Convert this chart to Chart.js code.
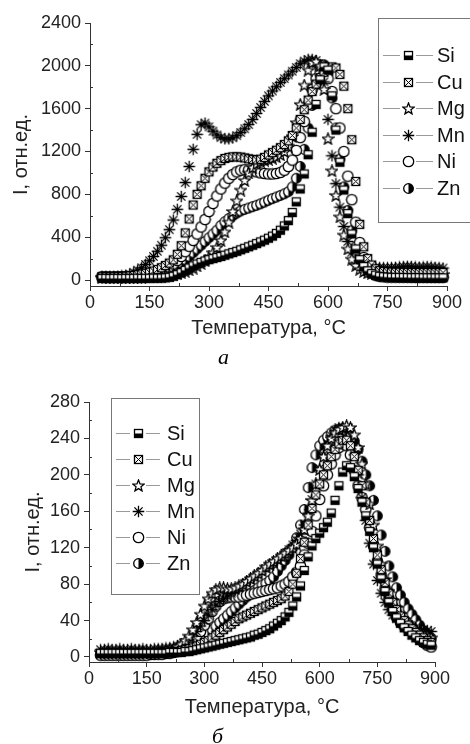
<!DOCTYPE html>
<html><head><meta charset="utf-8">
<script src="https://cdn.jsdelivr.net/npm/chart.js@4.4.1/dist/chart.umd.min.js"></script>
<style>
html,body{margin:0;padding:0;background:#fff;overflow:hidden;width:470px;height:744px}
#wa{position:absolute;left:0;top:0;width:470px;height:372px}
#wb{position:absolute;left:0;top:372px;width:470px;height:376px}
</style></head><body>
<div id="wa"><canvas id="ca"></canvas></div>
<div id="wb"><canvas id="cb"></canvas></div>
<script>
// ---------- data ----------
const temperature = [30,40,50,60,70,80,90,100,110,120,130,140,150,160,170,180,190,200,210,220,230,240,250,260,270,280,290,300,310,320,330,340,350,360,370,380,390,400,410,420,430,440,450,460,470,480,490,500,510,520,530,540,550,560,570,580,590,600,610,620,630,640,650,660,670,680,690,700,710,720,730,740,750,760,770,780,790,800,810,820,830,840,850,860,870,880,890];
const elements = ['Si','Cu','Mg','Mn','Ni','Zn'];

// chart "а"
const siA = [15,15,14,15,15,14,15,15,15,16,15,16,16,17,17,18,20,
  25,35,50,68,90,112,132,150,165,178, 190,200,210,220,232,244,256,268,282,296,
  310,325,340,356,372,390,410,435,465,505, 555,630,730,850,990,1170,1380,1640,1870,1990,
  1960,1720,1400,1100,840,620,430,290,190,125, 85,60,45,35,30,27,25,24,24,23, 23,22,22,22,21,21,21,20,20,20];
const cuA = [30,31,30,31,32,33,35,38,42,48,55, 62,72,84,98,115,135,
  158,188,240,320,440,570,700,800,880,950, 1010,1055,1090,1115,1135,1145,1150,1150,1148,1140,
  1132,1125,1122,1128,1145,1168,1190,1212,1236,1265, 1300,1350,1420,1500,1590,1680,1760,1830,1890,1940,
  1975,1990,1980,1920,1810,1600,1310,920,520,310, 200,140,105,88,80,76,74,72,72,71, 71,70,70,70,70,70,69,69,69,69];
const mgA = [25,25,24,25,25,25,26,26,27,27,28,29,30,32,34,37,41,
  46,52,60,70,82,96,112,132,155,182, 215,255,305,370,450,540,640,740,840,930,
  1000,1050,1085,1105,1118,1128,1138,1150,1170,1200, 1250,1340,1470,1640,1820,1960,2030,2040,2000,1780,
  1320,1020,790,590,420,290,195,135,100,80, 68,62,58,56,55,55,54,54,54,53, 53,53,53,53,52,52,52,52,52,52];
const mnA = [30,31,32,33,35,38, 42,55,72,92,115,145,180,220,268,325,395,
  470,560,660,780,910,1060,1220,1360,1450,1465, 1430,1390,1355,1330,1318,1318,1328,1348,1378,1412,
  1452,1500,1555,1612,1668,1720,1765,1805,1845,1880, 1915,1950,1985,2020,2045,2060,2060,2050,2010,1850,
  1500,1160,900,680,500,360,260,195,155,135, 125,120,118,116,115,115,116,118,122,125, 128,126,122,120,122,125,122,118,115,112];
const niA = [30,30,29,30,30,31,30,31,32,33,35,38, 42,50,62,78,98,
  122,150,182,220,265,315,370,430,495,565, 640,715,785,850,905,950,985,1010,1025,1030,
  1028,1020,1010,1000,995,990,990,995,1005,1025, 1060,1120,1210,1330,1480,1640,1780,1880,1930,1930,
  1880,1760,1600,1420,1200,970,750,540,350,210, 120,70,45,35,30,28,27,27,26,26, 26,26,25,25,25,25,25,25,25,25];
const znA = [25,25,24,25,25,26,25,26,27,28,30,32,35,40, 48,58,72,
  90,110,135,160,190,220,255,290,325,360, 395,430,465,510,545,575,600,625,645,660,
  672,685,698,712,728,745,760,775,790,805, 825,870,950,1060,1220,1420,1630,1830,1970,2010,
  1930,1700,1420,1130,870,650,460,310,200,130, 90,65,50,42,38,36,35,34,34,33, 33,33,32,32,32,31,31,31,30,30];

// chart "б"
const siB = [4,4,4,4,4,4,4,4,4,4,4,4,4,4,4,4,4,4,5,5,5, 5,6,6,7,8,9,
  10,11,12,13,14,15,16,17,18,19, 20,21,22,24,25,27,29,31,34,37, 40,44,49,56,66,78,95,110,122,130,
  136,142,148,158,172,188,203,210,208,198, 185,170,155,138,120,102,86,72,60,50, 43,37,32,28,24,21,18,16,14,13];
const cuB = [4,4,4,4,4,4,4,4,4,4,4,4,4,4,4,4,5,5,5,6,6, 7,8,9,10,12,14,
  16,18,21,24,27,30,33,36,39,42, 44,46,48,50,52,54,56,58,60,62, 64,67,72,80,92,108,126,145,163,178,
  190,200,210,220,228,234,238,238,232,220, 205,188,170,150,130,112,96,82,70,60, 52,45,40,35,31,27,24,21,18,16];
const mgB = [5,5,5,5,5,5,5,5,5,5,5,5,5,5,5,6,6,7,8,9,11, 14,18,23,30,38,47,
  56,64,70,74,76,76,75,75,76,78, 80,83,86,89,92,95,99,102,105,108, 111,114,117,120,124,130,140,155,172,190,
  206,220,232,240,246,250,252,254,252,244, 230,212,190,168,145,122,102,85,72,62, 54,47,41,37,33,30,27,25,23,21];
const mnB = [8,8,9,8,8,9,8,8,9,8,8,9,8,8,9,9,9,10,10,11,12, 14,16,19,23,28,34,
  40,46,52,57,61,64,67,70,73,76, 79,82,85,88,91,94,97,100,103,106, 110,114,118,123,128,135,145,158,173,190,
  207,222,234,243,249,252,252,247,236,222, 200,175,150,125,102,84,70,60,52,46, 42,39,37,35,33,32,31,30,29,28];
const niB = [2,2,2,2,2,2,2,2,2,2,2,2,2,3,3,3,3,4,4,5,6, 8,10,13,17,22,28,
  35,42,50,56,61,64,65,66,66,66, 67,68,69,70,71,72,73,74,75,76, 78,80,83,88,93,100,112,125,138,155,
  173,188,200,212,222,230,234,232,222,205, 188,175,162,142,122,105,90,75,63,52, 44,38,34,31,28,24,20,16,13,11];
const znB = [3,3,3,3,3,3,3,3,3,3,3,3,3,3,3,4,4,4,5,5,6, 7,8,10,12,15,18,
  22,26,30,34,38,42,46,50,54,58, 62,66,70,73,76,79,81,84,88,94, 100,106,112,120,131,145,162,186,208,222,
  232,238,242,246,249,250,250,248,244,237, 228,215,200,188,172,155,134,116,100,88, 76,68,60,53,47,41,35,29,24,20];

// ticks
const xTicks = [0,150,300,450,600,750,900];
const xMinor = [75,225,375,525,675,825];
const yTicksA = [0,400,800,1200,1600,2000,2400];
const yMinorA = [200,600,1000,1400,1800,2200];
const yTicksB = [0,40,80,120,160,200,240,280];
const yMinorB = [20,60,100,140,180,220,260];

// ---------- markers ----------
function marker(kind){
  const S = 13, c = document.createElement('canvas');
  c.width = S; c.height = S;
  const g = c.getContext('2d'), m = S/2;
  g.strokeStyle = '#000'; g.fillStyle = '#fff'; g.lineWidth = 1.3;
  if (kind === 'halfSquare') {
    g.fillRect(2,2,9,9); g.fillStyle = '#000'; g.fillRect(2,6.5,9,4.5);
    g.strokeRect(2.5,2.5,8,8);
  } else if (kind === 'boxX') {
    g.fillRect(2,2,9,9); g.strokeRect(2.5,2.5,8,8);
    g.lineWidth = 1;
    g.beginPath(); g.moveTo(2.5,2.5); g.lineTo(10.5,10.5); g.moveTo(10.5,2.5); g.lineTo(2.5,10.5); g.stroke();
  } else if (kind === 'star5') {
    g.beginPath();
    for (let k = 0; k < 10; k++) {
      const r = k % 2 ? 2.6 : 6, a = -Math.PI/2 + k*Math.PI/5;
      const px = m + r*Math.cos(a), py = m + 0.5 + r*Math.sin(a);
      k ? g.lineTo(px,py) : g.moveTo(px,py);
    }
    g.closePath(); g.fill(); g.stroke();
  } else if (kind === 'asterisk') {
    g.beginPath();
    for (let k = 0; k < 4; k++) {
      const a = k*Math.PI/4, r = 5.8;
      g.moveTo(m - r*Math.cos(a), m - r*Math.sin(a)); g.lineTo(m + r*Math.cos(a), m + r*Math.sin(a));
    }
    g.stroke();
  } else if (kind === 'circle') {
    g.beginPath(); g.arc(m,m,5.2,0,Math.PI*2); g.fill(); g.stroke();
  } else if (kind === 'halfCircle') {
    g.beginPath(); g.arc(m,m,4.8,0,Math.PI*2); g.fill();
    g.fillStyle = '#000'; g.beginPath(); g.arc(m,m,4.8,-Math.PI/2,Math.PI/2); g.closePath(); g.fill();
    g.beginPath(); g.arc(m,m,4.8,0,Math.PI*2); g.stroke();
  }
  return c;
}
const markerKinds = ['halfSquare','boxX','star5','asterisk','circle','halfCircle'];
const markers = markerKinds.map(marker);

// ---------- plugins ----------
const minorTicks = {
  id: 'minorTicks',
  afterDraw(chart, args, o) {
    const ctx = chart.ctx, {left, bottom} = chart.chartArea;
    const xs = chart.scales.x, ys = chart.scales.y;
    ctx.save(); ctx.strokeStyle = '#333'; ctx.lineWidth = 1; ctx.beginPath();
    o.x.forEach(v => { const p = Math.round(xs.getPixelForValue(v)) + 0.5; ctx.moveTo(p, bottom); ctx.lineTo(p, bottom - 3); });
    o.y.forEach(v => { const p = Math.round(ys.getPixelForValue(v)) + 0.5; ctx.moveTo(left, p); ctx.lineTo(left + 3, p); });
    ctx.stroke(); ctx.restore();
  }
};
const boxLegend = {
  id: 'boxLegend',
  afterDatasetsDraw(chart, args, o) {
    const ctx = chart.ctx;
    ctx.save();
    ctx.fillStyle = '#fff'; ctx.fillRect(o.x, o.y, o.w, o.h);
    ctx.strokeStyle = '#777'; ctx.lineWidth = 1; ctx.strokeRect(o.x + 0.5, o.y + 0.5, o.w, o.h);
    ctx.font = '20px "Liberation Sans", Arial, sans-serif';
    ctx.textBaseline = 'middle'; ctx.textAlign = 'left';
    chart.data.datasets.forEach((ds, i) => {
      const cy = Math.round(o.firstY + i * o.rowH);
      ctx.strokeStyle = '#999'; ctx.beginPath();
      ctx.moveTo(o.markX - o.lineOut, cy + 0.5); ctx.lineTo(o.markX - o.lineIn, cy + 0.5);
      ctx.moveTo(o.markX + o.lineIn, cy + 0.5); ctx.lineTo(o.markX + o.lineOut, cy + 0.5);
      ctx.stroke();
      const img = ds.pointStyle;
      ctx.drawImage(img, Math.round(o.markX - img.width / 2), Math.round(cy - img.height / 2));
      ctx.fillStyle = '#111'; ctx.fillText(ds.label, o.textX, cy + 1);
    });
    ctx.restore();
  }
};

Chart.defaults.font.family = '"Liberation Sans", Arial, sans-serif';
Chart.defaults.color = '#222';

function build(canvasId, series, cfg) {
  const datasets = series.map((vals, i) => ({
    label: elements[i],
    data: temperature.map((t, k) => ({x: t, y: vals[k]})),
    pointStyle: markers[i],
    pointRadius: 5,
    showLine: false,
    borderColor: '#000',
    backgroundColor: '#fff',
    clip: false
  }));
  return new Chart(document.getElementById(canvasId), {
    type: 'scatter',
    data: {datasets},
    options: {
      responsive: true, maintainAspectRatio: false, animation: false, devicePixelRatio: 1,
      events: [],
      layout: {padding: {top: cfg.padTop, right: cfg.padRight, left: 0, bottom: 0}},
      plugins: {
        legend: {display: false},
        tooltip: {enabled: false},
        title: {display: true, text: cfg.caption, position: 'bottom', color: '#000',
          font: {family: '"Liberation Serif", "Times New Roman", serif', style: 'italic', weight: 'normal', size: 22, lineHeight: 1},
          padding: {top: 7, bottom: cfg.capBottom}},
        minorTicks: {x: xMinor, y: cfg.yMinor},
        boxLegend: cfg.legend
      },
      scales: {
        x: {
          type: 'linear', min: 0, max: 900,
          border: {color: '#333', width: 1},
          grid: {display: true, drawOnChartArea: false, drawTicks: true, tickLength: 5, color: '#333'},
          ticks: {font: {size: 18}, color: '#222', padding: 1, maxRotation: 0, callback: v => String(v)},
          title: {display: true, text: 'Температура, °C', font: {size: 20}, color: '#222', padding: {top: 0, bottom: 0}},
          afterBuildTicks: s => { s.ticks = xTicks.map(v => ({value: v})); },
          afterFit: s => { s.height = cfg.xHeight; }
        },
        y: {
          type: 'linear', min: cfg.yMin, max: cfg.yMax,
          border: {color: '#333', width: 1},
          grid: {display: true, drawOnChartArea: false, drawTicks: true, tickLength: 5, color: '#333'},
          ticks: {font: {size: 18}, color: '#222', padding: 4, callback: v => String(v)},
          title: {display: true, text: 'I, отн.ед.', font: {size: 20}, color: '#222', padding: {top: cfg.yTitlePad, bottom: 0}},
          afterBuildTicks: s => { s.ticks = cfg.yTicks.map(v => ({value: v})); },
          afterFit: s => { s.width = cfg.yWidth; }
        }
      }
    },
    plugins: [minorTicks, boxLegend]
  });
}

build('ca', [siA, cuA, mgA, mnA, niA, znA], {
  caption: 'а', padTop: 23, padRight: 23, capBottom: 3, xHeight: 54, yWidth: 90, yTitlePad: 9,
  yMin: -56, yMax: 2400, yTicks: yTicksA, yMinor: yMinorA,
  legend: {x: 378, y: 18, w: 95, h: 204, markX: 408, lineIn: 8, lineOut: 25, textX: 437, firstY: 55, rowH: 26.5}
});
build('cb', [siB, cuB, mgB, mnB, niB, znB], {
  caption: 'б', padTop: 30, padRight: 35, capBottom: 0, xHeight: 57, yWidth: 89, yTitlePad: 21,
  yMin: -5.5, yMax: 280, yTicks: yTicksB, yMinor: yMinorB,
  legend: {x: 111, y: 26, w: 88, h: 196, markX: 138, lineIn: 8, lineOut: 22, textX: 167, firstY: 61, rowH: 26}
});
</script>
</body></html>
